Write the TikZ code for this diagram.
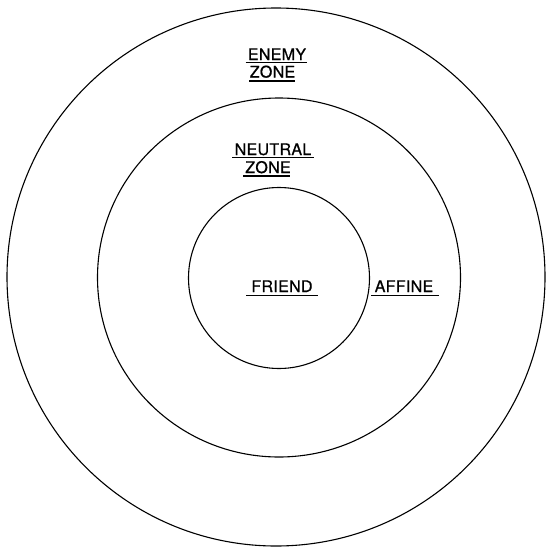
\documentclass[tikz,border=0pt]{standalone}
\usepackage{fontspec}
\setmainfont{TeX Gyre Heros}[LetterSpace=2.0,FakeBold=0.8]
\begin{document}
\begin{tikzpicture}[x=1pt,y=-1pt,
  ring/.style={draw=black,line width=1.1pt},
  lbl/.style={anchor=base,inner sep=0pt,font=\fontsize{16}{19}\selectfont},
  ul/.style={draw=black,line width=1.1pt}]
\useasboundingbox (0,0) rectangle (546,549);
\draw[ring] (276,277) circle[radius=269];
\draw[ring] (279,277.5) ellipse[x radius=181.5,y radius=179.5];
\draw[ring] (279,278) circle[radius=90.5];
\node[lbl] (enemy) at (277,60) {ENEMY};
\node[lbl] (zone1) at (272.5,77.5) {ZONE};
\node[lbl] (neutral) at (273,155) {NEUTRAL};
\node[lbl] (zone2) at (268,173) {ZONE};
\node[lbl] (friend) at (282,292) {FRIEND};
\node[lbl] (affine) at (404,292) {AFFINE};
\draw[ul] (245.6,62.7) -- (307.3,62.7);
\draw[ul] (249,81) -- (295,81);
\draw[ul] (232,157.5) -- (314,157.5);
\draw[ul] (243,176) -- (290,176);
\draw[ul] (246,295.5) -- (318,295.5);
\draw[ul] (371,295.5) -- (439,295.5);
\end{tikzpicture}
\end{document}
